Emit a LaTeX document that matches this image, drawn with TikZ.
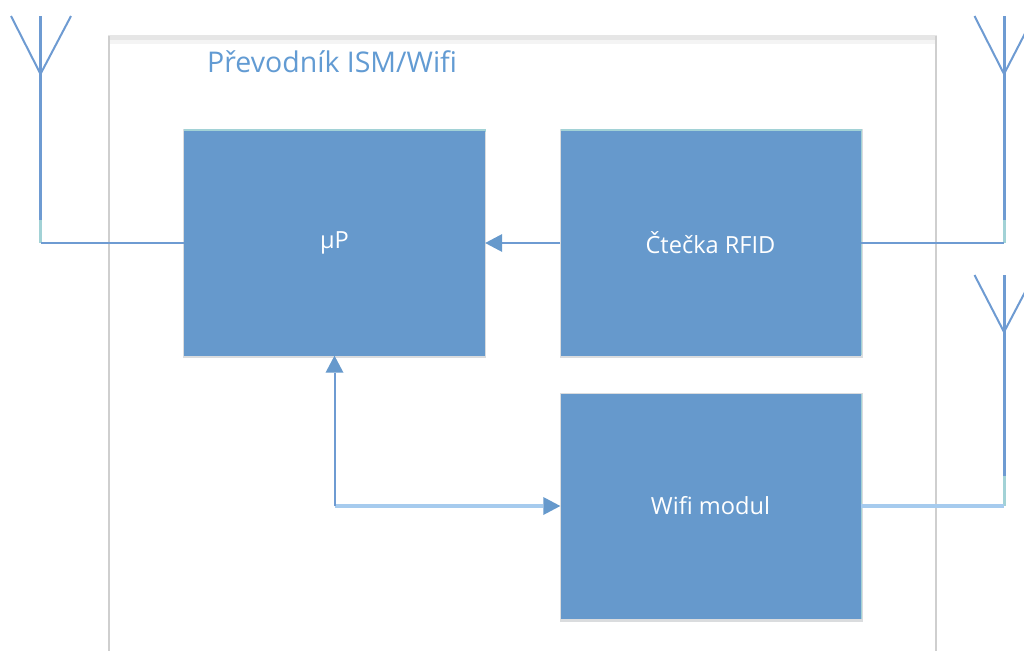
\documentclass[tikz,border=0pt]{standalone}
\usepackage{fontspec}
\setmainfont{Open Sans}
\usetikzlibrary{arrows.meta}
\definecolor{boxblue}{HTML}{6699CC}
\definecolor{lineblue}{HTML}{6E9BD2}
\definecolor{paleblue}{HTML}{A6CBEE}
\definecolor{paleteal}{HTML}{A2D2D6}
\definecolor{edgegrey}{HTML}{CFCFCF}
\definecolor{topgrey}{HTML}{E6E6E6}
\definecolor{softgrey}{HTML}{DADCDE}
\definecolor{titleblue}{HTML}{629BD3}
\tikzset{
  block/.style={fill=boxblue,draw=none,text=white,minimum width=300pt,minimum height=225pt,inner sep=0pt,font=\fontsize{23.6}{28}\selectfont},
  wire/.style={draw=lineblue,line width=2pt},
  palewire/.style={draw=paleblue,line width=3.4pt},
  stem/.style={draw=lineblue,line width=3pt},
  stemend/.style={draw=paleteal,line width=3pt},
  arm/.style={draw=lineblue,line width=2pt},
  tip/.style={-{Triangle[width=18pt,length=17pt,color=boxblue,fill=boxblue,line width=0pt]}},
}
\begin{document}
\begin{tikzpicture}[x=1pt,y=-1pt]
\useasboundingbox (0,0) rectangle (1024,651);
\fill[white] (0,0) rectangle (1024,651);
\clip (0,0) rectangle (1024,651);
% frame
\fill[topgrey!45] (110,39) rectangle (935,44);
\fill[topgrey] (108,34.5) rectangle (937,39.5);
\fill[edgegrey] (108.3,36) rectangle (110.3,651);
\fill[edgegrey] (935.2,36) rectangle (937.2,651);
% block shadows
\fill[softgrey] (182.5,128.5) rectangle (486,358);
\fill[softgrey] (559.5,128.5) rectangle (863,358);
\fill[softgrey] (559.5,392.5) rectangle (863,622);
\fill[paleteal] (184,129) rectangle (485.5,132);
\fill[paleteal] (561,129) rectangle (861.5,132);
\fill[paleteal] (858,129) rectangle (862,355);
\fill[paleteal] (858,394) rectangle (862,619);
% blocks
\node[block,minimum width=301pt] (up) at (334.5,243) {µP};
\node[block] (rfid) at (710.5,243) {Čtečka RFID};
\node[block] (wifi) at (710.5,506) {Wifi modul};
% title
\node[text=titleblue,font=\fontsize{28.5}{33}\selectfont,anchor=west,inner sep=0pt] (title) at (207,62) {Převodník ISM/Wifi};
% antenna points
\coordinate (aL) at (40.5,74);
\coordinate (aLt) at (40.5,16);
\coordinate (aLa) at (11,16);
\coordinate (aLb) at (71,16);
\coordinate (aLm) at (40.5,220);
\coordinate (aLe) at (40.5,243);
\coordinate (aR) at (1004,74);
\coordinate (aRt) at (1004,16);
\coordinate (aRa) at (974.5,16);
\coordinate (aRb) at (1034,16);
\coordinate (aRm) at (1004,220);
\coordinate (aRe) at (1004,243);
\coordinate (aW) at (1004,332);
\coordinate (aWt) at (1004,275);
\coordinate (aWa) at (974.5,275);
\coordinate (aWb) at (1034,275);
\coordinate (aWm) at (1004,476);
\coordinate (aWe) at (1004,506);
\coordinate (corner) at (334.5,506);
% antennas
\foreach \n in {L,R,W}{
  \draw[stemend] (a\n m) -- (a\n e);
  \draw[stem] (a\n t) -- (a\n m);
  \draw[arm] (a\n a) -- (a\n) -- (a\n b);
}
% connectors
\draw[wire] (aLe) -- (aLe -| up.west);
\draw[wire] (rfid.east) -- (aRe);
\draw[palewire] (wifi.east) -- (aWe);
\draw[wire,tip] (rfid.west) -- (up.east);
\draw[palewire,tip] (corner) -- (wifi.west);
\draw[wire,tip] (corner) -- (up.south);
\end{tikzpicture}
\end{document}
